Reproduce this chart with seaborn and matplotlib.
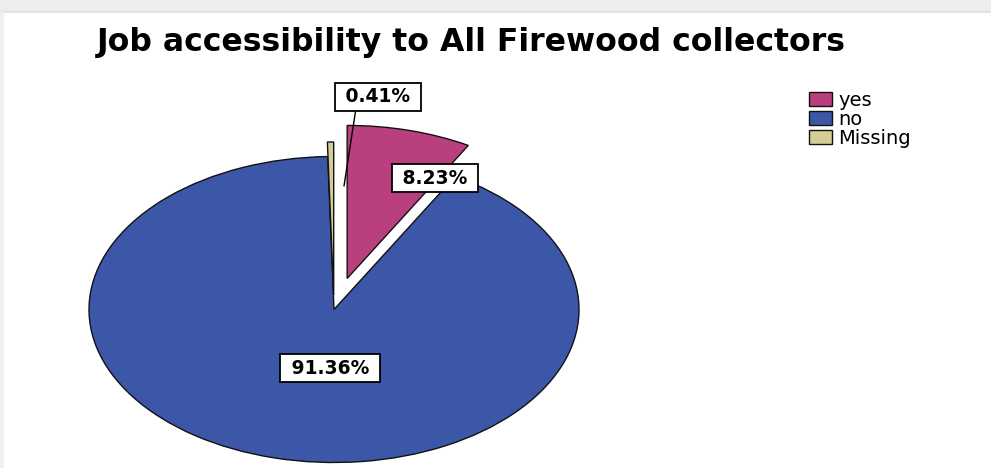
import matplotlib
matplotlib.use("Agg")
import matplotlib.pyplot as plt
import seaborn as sns
from matplotlib.patches import Rectangle

sns.set_theme(style="white")
plt.rcParams['font.family'] = ['DejaVu Sans']

categories = ["yes", "no", "Missing"]
values = [8.23, 91.36, 0.41]
labels = ["8.23%", "91.36%", "0.41%"]
colors = ["#BA3F7F", "#3D57A8", "#D5CD95"]
explode = [0.21, 0.0, 0.095]

W, H = 991, 468
fig = plt.figure(figsize=(W / 100, H / 100), dpi=100)
fig.patch.set_facecolor("white")

# screenshot frame
fig.patches.append(Rectangle((0, 1 - 12 / H), 1, 12 / H, transform=fig.transFigure,
                             facecolor="#ededed", edgecolor="none", zorder=0))
fig.patches.append(Rectangle((0, 1 - 13 / H), 1, 2 / H, transform=fig.transFigure,
                             facecolor="#e2e2e2", edgecolor="none", zorder=0))
fig.patches.append(Rectangle((0, 0), 4 / W, 1 - 12 / H, transform=fig.transFigure,
                             facecolor="#efefef", edgecolor="none", zorder=0))

cx, cy, rx, ry = 334, 309.5, 245, 153
ax = fig.add_axes([(cx - rx) / W, (H - cy - ry) / H, 2 * rx / W, 2 * ry / H])
wedges, _ = ax.pie(values, colors=colors, explode=explode, startangle=90,
                   counterclock=False, radius=1.0,
                   wedgeprops=dict(edgecolor="#111111", linewidth=1.0))
ax.set_aspect("auto")
ax.set_xlim(-1, 1)
ax.set_ylim(-1, 1)
ax.axis("off")
for w in wedges:
    w.set_clip_on(False)

def px2data(x, y):
    return ((x - cx) / rx, (cy - y) / ry)

box = dict(boxstyle="square,pad=0.22", facecolor="white", edgecolor="black", linewidth=1.3)
tkw = dict(fontsize=13.5, fontweight="bold", ha="center", va="center",
           bbox=box, zorder=5, color="black")
ax.text(*px2data(435, 178), f" {labels[0]} ", **tkw)
ax.text(*px2data(330, 368), f" {labels[1]} ", **tkw)
ax.annotate(f" {labels[2]} ", xy=px2data(344, 186), xytext=px2data(378, 97),
            annotation_clip=False,
            arrowprops=dict(arrowstyle="-", color="black", lw=1.0,
                            shrinkA=0, shrinkB=0, relpos=(0.22, 0.0)), **tkw)

fig.text(471 / W, 1 - 51 / H, "Job accessibility to All Firewood collectors",
         fontsize=22.7, fontweight="bold", ha="center", va="baseline", color="black")

leg = fig.legend(wedges, categories, loc="upper left",
                 bbox_to_anchor=(809 / W, 1 - 91 / H), frameon=False,
                 fontsize=14, handlelength=1.2, handleheight=0.7,
                 handletextpad=0.3, labelspacing=0.0, borderaxespad=0, borderpad=0)
for t in leg.get_texts():
    t.set_color("black")

fig.savefig("out.png", dpi=100, facecolor="white")
